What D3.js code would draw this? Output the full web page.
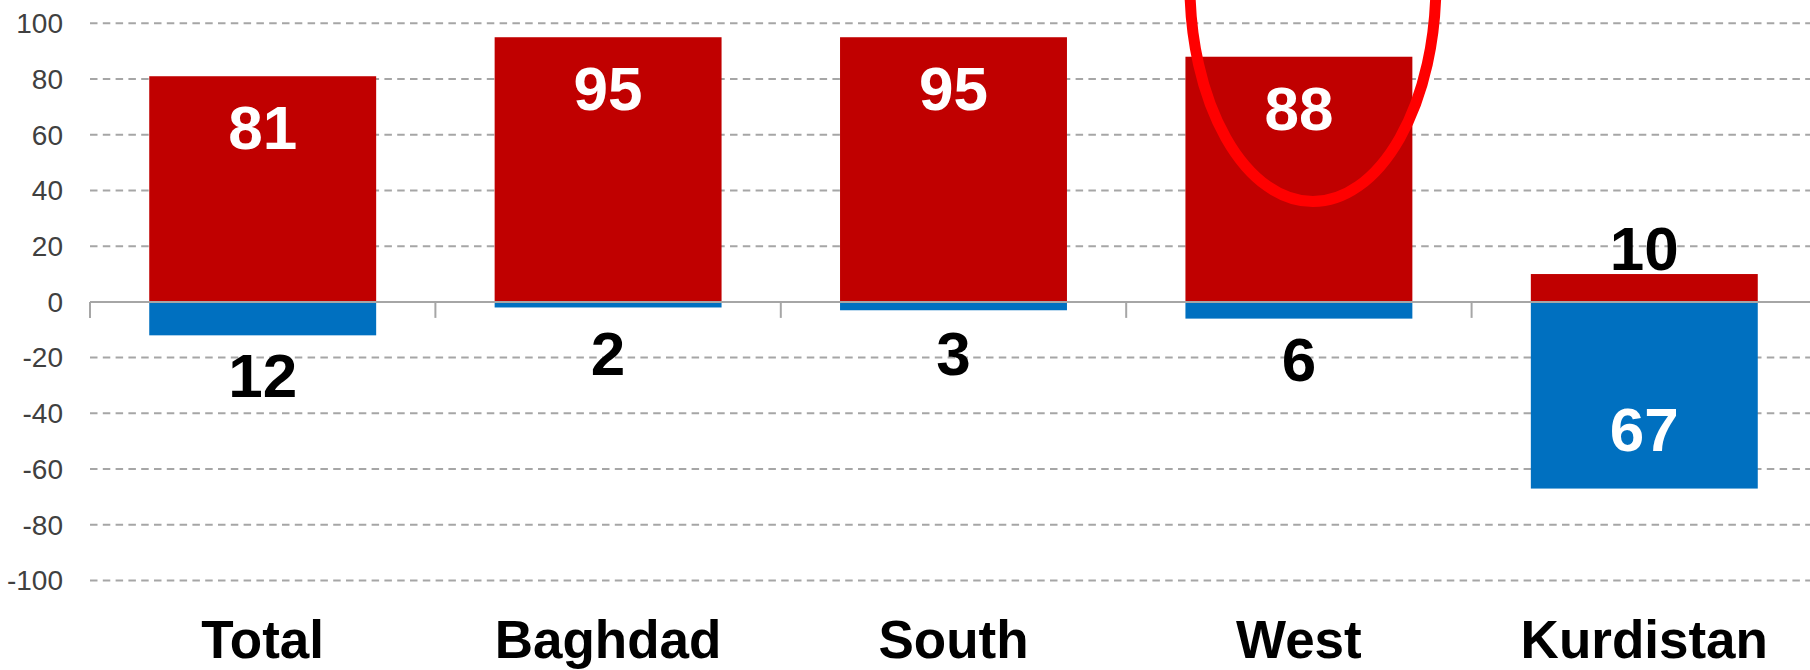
<!DOCTYPE html>
<html lang="en">

<head>
    <title>Regional bars</title>
    <meta charset="UTF-8">
    <script src="https://d3js.org/d3.v7.min.js"></script>
    <style>
        body {
            margin: 0;
            background: #ffffff;
        }

        svg {
            display: block;
            font-family: "Liberation Sans", Arial, sans-serif;
        }

        .tick_label {
            font-size: 28px;
            fill: #404040;
        }

        .cat_label {
            font-size: 53px;
            font-weight: bold;
            fill: #000000;
        }

        .value_label {
            font-size: 62px;
            font-weight: bold;
        }
    </style>
</head>

<body>
    <svg width="1810" height="670"></svg>

    <script>
        // data
        const categories = ["Total", "Baghdad", "South", "West", "Kurdistan"];
        const redValues = [81, 95, 95, 88, 10];
        const blueValues = [12, 2, 3, 6, 67];
        const yTicks = [100, 80, 60, 40, 20, 0, -20, -40, -60, -80, -100];

        const RED = "#c00000";
        const BLUE = "#0070c0";
        const GRID = "#a6a6a6";

        let svg = d3.select("svg");

        // scales
        let x = d3.scaleBand()
            .domain(categories)
            .range([90, 1817])
            .paddingInner(0.343)
            .paddingOuter(0.1715);

        let y = d3.scaleLinear()
            .domain([-100, 100])
            .range([580.5, 23.3]);

        const step = x.step();
        const left = 90;

        // dashed gridlines (zero is drawn as the solid axis later)
        svg.append("g").attr("class", "grid")
            .selectAll("line")
            .data(yTicks.filter(d => d !== 0))
            .enter()
            .append("line")
            .attr("x1", left)
            .attr("x2", 1810)
            .attr("y1", d => y(d))
            .attr("y2", d => y(d))
            .attr("stroke", GRID)
            .attr("stroke-width", 2)
            .attr("stroke-dasharray", "7.5,5.3");

        // y tick labels
        svg.append("g")
            .selectAll("text")
            .data(yTicks)
            .enter()
            .append("text")
            .attr("class", "tick_label")
            .attr("x", 63)
            .attr("y", d => y(d))
            .attr("dy", "0.35em")
            .attr("text-anchor", "end")
            .text(d => d);

        // red bars (positive)
        svg.append("g")
            .selectAll("rect")
            .data(categories)
            .enter()
            .append("rect")
            .attr("x", d => x(d))
            .attr("width", x.bandwidth())
            .attr("y", (d, i) => y(redValues[i]))
            .attr("height", (d, i) => y(0) - y(redValues[i]))
            .attr("fill", RED);

        // blue bars (negative)
        svg.append("g")
            .selectAll("rect")
            .data(categories)
            .enter()
            .append("rect")
            .attr("x", d => x(d))
            .attr("width", x.bandwidth())
            .attr("y", y(0))
            .attr("height", (d, i) => y(-blueValues[i]) - y(0))
            .attr("fill", BLUE);

        // zero axis line + category dividers
        svg.append("line")
            .attr("x1", left)
            .attr("x2", 1810)
            .attr("y1", y(0))
            .attr("y2", y(0))
            .attr("stroke", GRID)
            .attr("stroke-width", 2);

        svg.append("g")
            .selectAll("line")
            .data(d3.range(categories.length))
            .enter()
            .append("line")
            .attr("x1", i => left + i * step)
            .attr("x2", i => left + i * step)
            .attr("y1", y(0))
            .attr("y2", y(0) + 16)
            .attr("stroke", GRID)
            .attr("stroke-width", 2);

        // category labels
        svg.append("g")
            .selectAll("text")
            .data(categories)
            .enter()
            .append("text")
            .attr("class", "cat_label")
            .attr("x", d => x(d) + x.bandwidth() / 2)
            .attr("y", 658)
            .attr("text-anchor", "middle")
            .text(d => d);

        // value labels: inside the bar when it is tall enough, outside otherwise
        svg.append("g")
            .selectAll("text")
            .data(categories)
            .enter()
            .append("text")
            .attr("class", "value_label")
            .attr("x", d => x(d) + x.bandwidth() / 2)
            .attr("y", (d, i) => redValues[i] >= 20 ? y(redValues[i]) + 73 : y(redValues[i]) - 4)
            .attr("fill", (d, i) => redValues[i] >= 20 ? "#ffffff" : "#000000")
            .attr("text-anchor", "middle")
            .text((d, i) => redValues[i]);

        svg.append("g")
            .selectAll("text")
            .data(categories)
            .enter()
            .append("text")
            .attr("class", "value_label")
            .attr("x", d => x(d) + x.bandwidth() / 2)
            .attr("y", (d, i) => blueValues[i] >= 20
                ? y(-blueValues[i]) - 38
                : Math.max(y(-blueValues[i]) + 62, y(0) + 73))
            .attr("fill", (d, i) => blueValues[i] >= 20 ? "#ffffff" : "#000000")
            .attr("text-anchor", "middle")
            .text((d, i) => blueValues[i]);

        // red highlight ellipse around West
        let cx = x("West") + x.bandwidth() / 2 + 14;
        svg.append("ellipse")
            .attr("cx", cx)
            .attr("cy", y(114))
            .attr("rx", 123)
            .attr("ry", y(36) - y(114))
            .attr("fill", "none")
            .attr("stroke", "#ff0000")
            .attr("stroke-width", 11);
    </script>
</body>

</html>
